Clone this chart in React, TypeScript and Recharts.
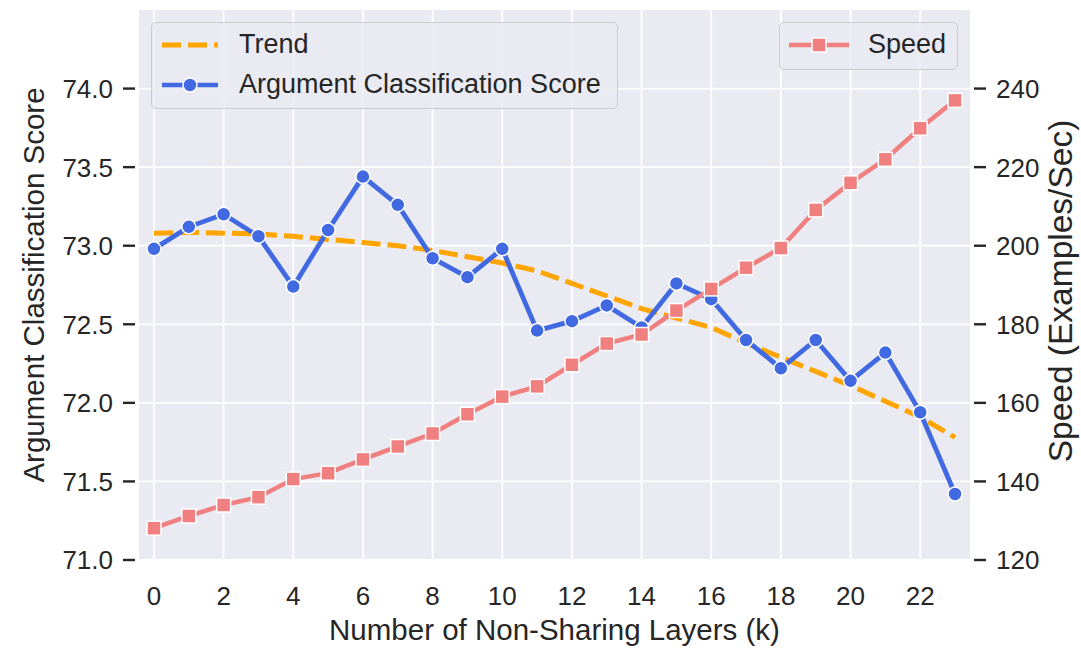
import { ComposedChart, Line, XAxis, YAxis, CartesianGrid, Legend } from "recharts";

const FONT = "'Liberation Sans', Arial, sans-serif";
const INK = "#262626";
const BLUE = "#4169E1";
const ORANGE = "#FFA500";
const PINK = "#F08080";

const layers = [0, 1, 2, 3, 4, 5, 6, 7, 8, 9, 10, 11, 12, 13, 14, 15, 16, 17, 18, 19, 20, 21, 22, 23];
const scores = [
  72.98, 73.12, 73.2, 73.06, 72.74, 73.1, 73.44, 73.26, 72.92, 72.8, 72.98, 72.46,
  72.52, 72.62, 72.48, 72.76, 72.66, 72.4, 72.22, 72.4, 72.14, 72.32, 71.94, 71.42,
];
const trend = [
  73.08, 73.085, 73.08, 73.075, 73.06, 73.04, 73.02, 73.0, 72.97, 72.93, 72.89, 72.84,
  72.76, 72.68, 72.6, 72.54, 72.48, 72.38, 72.29, 72.2, 72.11, 72.01, 71.91, 71.78,
];
const speed = [
  128.1, 131.2, 134.0, 136.0, 140.6, 142.1, 145.6, 148.9, 152.2, 157.1, 161.6, 164.2,
  169.7, 175.1, 177.4, 183.5, 189.0, 194.4, 199.4, 209.1, 216.0, 222.0, 229.9, 237.0,
];

const xTicks = [0, 2, 4, 6, 8, 10, 12, 14, 16, 18, 20, 22];
const scoreTicks = [71, 71.5, 72, 72.5, 73, 73.5, 74];
const speedTicks = [120, 140, 160, 180, 200, 220, 240];

const data = layers.map((k, i) => ({ k, score: scores[i], trend: trend[i], speed: speed[i] }));

const LeftTick = ({ x, y, payload }: any) => (
  <g>
    <line x1={x - 16} x2={x - 4} y1={y} y2={y} stroke={INK} strokeWidth={2.4} />
    <text x={x - 26} y={y} dy="0.36em" textAnchor="end" fontSize={26} fontFamily={FONT} fill={INK}>
      {Number(payload.value).toFixed(1)}
    </text>
  </g>
);

const RightTick = ({ x, y, payload }: any) => (
  <g>
    <line x1={x + 4} x2={x + 16} y1={y} y2={y} stroke={INK} strokeWidth={2.4} />
    <text x={x + 26} y={y} dy="0.36em" textAnchor="start" fontSize={26} fontFamily={FONT} fill={INK}>
      {payload.value}
    </text>
  </g>
);

const BottomTick = ({ x, y, payload }: any) => (
  <text x={x} y={y + 36} dy="0.36em" textAnchor="middle" fontSize={26} fontFamily={FONT} fill={INK}>
    {payload.value}
  </text>
);

const SquareDot = (p: any) => (
  <rect
    key={`sq-${p.index}`}
    x={p.cx - 7}
    y={p.cy - 7}
    width={14}
    height={14}
    fill={PINK}
    stroke="#fff"
    strokeWidth={1.5}
  />
);

const boxStyle: React.CSSProperties = {
  position: "absolute",
  background: "rgba(234,234,242,0.85)",
  border: "1.5px solid #cccccc",
  borderRadius: 5,
  boxSizing: "border-box",
};

const legendText: React.CSSProperties = {
  position: "absolute",
  fontFamily: FONT,
  fontSize: 27,
  color: INK,
  lineHeight: "30px",
  whiteSpace: "nowrap",
};

const renderLegend = () => (
  <div style={{ position: "relative", width: 1081, height: 648 }}>
    <div style={{ ...boxStyle, left: 151, top: 22, width: 467, height: 87 }}>
      <svg style={{ position: "absolute", left: 0, top: 0 }} width={80} height={87}>
        <line x1={10} x2={66} y1={22} y2={22} stroke={ORANGE} strokeWidth={5} strokeDasharray="19 7" />
        <line x1={10} x2={66} y1={62} y2={62} stroke={BLUE} strokeWidth={4.5} />
        <circle cx={38} cy={62} r={7} fill={BLUE} stroke="#fff" strokeWidth={1.5} />
      </svg>
      <span style={{ ...legendText, left: 87, top: 6 }}>Trend</span>
      <span style={{ ...legendText, left: 87, top: 46 }}>Argument Classification Score</span>
    </div>
    <div style={{ ...boxStyle, left: 779, top: 22, width: 179, height: 48 }}>
      <svg style={{ position: "absolute", left: 0, top: 0 }} width={80} height={48}>
        <line x1={9} x2={69} y1={22} y2={22} stroke={PINK} strokeWidth={4.5} />
        <rect x={32} y={15} width={14} height={14} fill={PINK} stroke="#fff" strokeWidth={1.5} />
      </svg>
      <span style={{ ...legendText, left: 88, top: 6 }}>Speed</span>
    </div>
  </div>
);

export default function App() {
  return (
    <div style={{ position: "absolute", left: 0, top: 0, width: 1081, height: 648, background: "#fff" }}>
      <ComposedChart width={1081} height={648} data={data} margin={{ top: 10, right: 0, bottom: 0, left: 0 }}>
        <CartesianGrid
          yAxisId="left"
          fill="#EAEAF2"
          stroke="#ffffff"
          strokeWidth={1.8}
          horizontalValues={scoreTicks}
          verticalValues={xTicks}
        />
        <XAxis
          dataKey="k"
          type="number"
          domain={[-0.43, 23.43]}
          allowDataOverflow
          ticks={xTicks}
          interval={0}
          height={88}
          axisLine={false}
          tickLine={false}
          tickSize={0}
          tickMargin={0}
          tick={<BottomTick />}
          label={{
            content: () => (
              <text x={554.5} y={640} textAnchor="middle" fontSize={29.5} fontFamily={FONT} fill={INK}>
                Number of Non-Sharing Layers (k)
              </text>
            ),
          }}
        />
        <YAxis
          yAxisId="left"
          orientation="left"
          type="number"
          domain={[71, 74.5]}
          allowDataOverflow
          ticks={scoreTicks}
          interval={0}
          width={139}
          axisLine={false}
          tickLine={false}
          tickSize={0}
          tickMargin={0}
          tick={<LeftTick />}
          label={{
            content: () => (
              <text
                x={44}
                y={285}
                transform="rotate(-90 44 285)"
                textAnchor="middle"
                fontSize={29.5}
                fontFamily={FONT}
                fill={INK}
              >
                Argument Classification Score
              </text>
            ),
          }}
        />
        <YAxis
          yAxisId="right"
          orientation="right"
          type="number"
          domain={[120, 260]}
          allowDataOverflow
          ticks={speedTicks}
          interval={0}
          width={111}
          axisLine={false}
          tickLine={false}
          tickSize={0}
          tickMargin={0}
          tick={<RightTick />}
          label={{
            content: () => (
              <text
                x={1072}
                y={291}
                transform="rotate(-90 1072 291)"
                textAnchor="middle"
                fontSize={33.5}
                fontFamily={FONT}
                fill={INK}
              >
                Speed (Examples/Sec)
              </text>
            ),
          }}
        />
        <Line
          yAxisId="left"
          type="linear"
          dataKey="trend"
          stroke={ORANGE}
          strokeWidth={5}
          strokeDasharray="19 7"
          dot={false}
          activeDot={false}
          isAnimationActive={false}
        />
        <Line
          yAxisId="left"
          type="linear"
          dataKey="score"
          stroke={BLUE}
          strokeWidth={4.8}
          dot={{ r: 7, fill: BLUE, stroke: "#fff", strokeWidth: 1.5 }}
          activeDot={false}
          isAnimationActive={false}
        />
        <Line
          yAxisId="right"
          type="linear"
          dataKey="speed"
          stroke={PINK}
          strokeWidth={4.5}
          dot={SquareDot}
          activeDot={false}
          isAnimationActive={false}
        />
        <Legend
          layout="horizontal"
          verticalAlign="middle"
          align="center"
          content={renderLegend}
          wrapperStyle={{ position: "absolute", left: 0, top: 0, width: 1081, height: 648, pointerEvents: "none" }}
        />
      </ComposedChart>
    </div>
  );
}
